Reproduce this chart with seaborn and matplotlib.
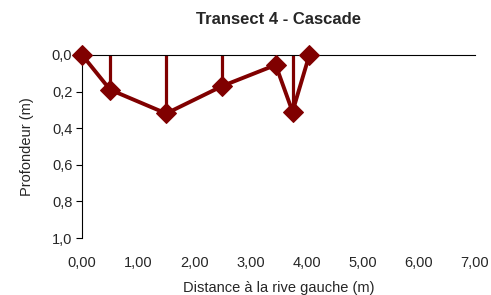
import matplotlib
matplotlib.use("Agg")
import matplotlib.pyplot as plt
import seaborn as sns
import pandas as pd

distance = [0.0, 0.5, 1.5, 2.5, 3.45, 3.75, 4.05]
profondeur = [0.0, 0.19, 0.32, 0.17, 0.055, 0.31, 0.0]
x_ticks = [0, 1, 2, 3, 4, 5, 6, 7]
x_labels = ["0,00", "1,00", "2,00", "3,00", "4,00", "5,00", "6,00", "7,00"]
y_ticks = [0.0, 0.2, 0.4, 0.6, 0.8, 1.0]
y_labels = ["0,0", "0,2", "0,4", "0,6", "0,8", "1,0"]

sns.set_theme(style="white")
plt.rcParams['font.family'] = ['Liberation Sans', 'DejaVu Sans']

df = pd.DataFrame({"d": distance, "p": profondeur})
color = "#800000"

fig = plt.figure(figsize=(4.91, 2.95), dpi=100)
ax = fig.add_axes([0.167, 0.193, 0.8004, 0.621])

ax.vlines(df["d"][1:-1], 0, df["p"][1:-1], color=color, lw=2.3, zorder=2)
sns.lineplot(data=df, x="d", y="p", sort=False, color=color, lw=2.8,
             marker="D", markersize=10, markeredgecolor=color, ax=ax, zorder=3,
             clip_on=False)

ax.set_xlim(0, 7)
ax.set_ylim(1.0, 0.0)
ax.set_xticks(x_ticks)
ax.set_xticklabels(x_labels, fontsize=10.5)
ax.set_yticks(y_ticks)
ax.set_yticklabels(y_labels, fontsize=10.5)
ax.tick_params(axis="y", which="both", left=True, length=4, width=0.8, color="black", pad=3)
ax.tick_params(axis="x", bottom=False, pad=7)

for s in ["bottom", "right"]:
    ax.spines[s].set_visible(False)
for s in ["left", "top"]:
    ax.spines[s].set_visible(True)
    ax.spines[s].set_color("black")
    ax.spines[s].set_linewidth(0.8)

ax.set_xlabel("Distance à la rive gauche (m)", fontsize=10.5, labelpad=7.5)
ax.set_ylabel("Profondeur (m)", fontsize=10.5, labelpad=13)
ax.set_title("Transect 4 - Cascade", fontsize=12, fontweight="bold", pad=22)

fig.savefig("out.png", dpi=100)
